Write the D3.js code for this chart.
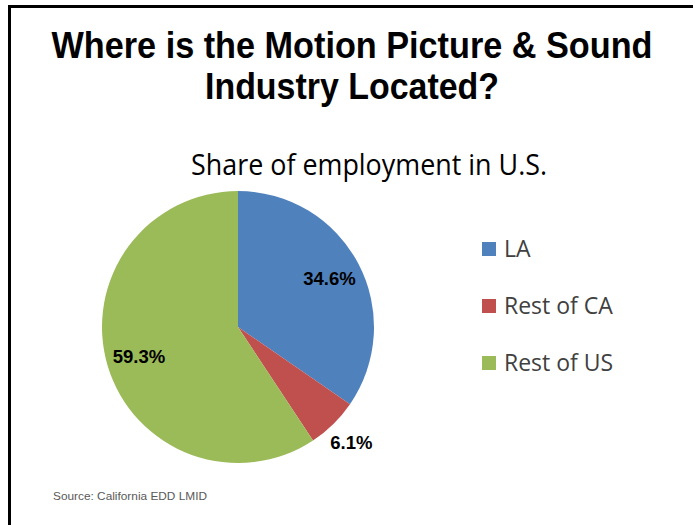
<!DOCTYPE html>
<html>
<head>
<meta charset="utf-8">
<script src="https://cdn.jsdelivr.net/npm/d3@7"></script>
<style>
  body { margin: 0; background: #fff; }
</style>
</head>
<body>
<svg id="chart" width="695" height="525"></svg>
<script>
// data
const regions = ["LA", "Rest of CA", "Rest of US"];
const shares = [34.6, 6.1, 59.3];
const sliceColors = ["#4F81BD", "#C0504D", "#9BBB59"];
const titleLines = ["Where is the Motion Picture & Sound", "Industry Located?"];
const titleWidths = [601, 294];

const svg = d3.select("#chart");

// slide frame (only top and left edges are visible in the crop)
svg.append("path").attr("d", "M9.5,525 V6.5 H693").attr("fill", "none").attr("stroke", "#000").attr("stroke-width", 3);

// title
svg.append("g").selectAll("text").data(titleLines).enter().append("text")
    .attr("x", 352).attr("y", function (d, i) { return 58 + i * 41; })
    .attr("text-anchor", "middle")
    .attr("textLength", function (d, i) { return titleWidths[i]; }).attr("lengthAdjust", "spacingAndGlyphs")
    .attr("font-family", "Liberation Sans, Arial, sans-serif").attr("font-weight", "bold").attr("font-size", 36)
    .attr("fill", "#000").text(function (d) { return d; });

// subtitle
svg.append("text").attr("x", 369).attr("y", 175).attr("text-anchor", "middle")
    .attr("textLength", 356).attr("lengthAdjust", "spacingAndGlyphs")
    .attr("font-family", "Open Sans, sans-serif").attr("font-size", 29).attr("fill", "#000")
    .text("Share of employment in U.S.");

// pie
const cx = 238, cy = 327, r = 136;
const pie = d3.pie().sort(null).value(function (d) { return d; });
const arc = d3.arc().innerRadius(0).outerRadius(r);
const arcs = pie(shares);

const g = svg.append("g").attr("transform", "translate(" + cx + "," + cy + ")");
g.selectAll("path").data(arcs).enter().append("path")
    .attr("d", arc).attr("fill", function (d, i) { return sliceColors[i]; });

g.selectAll(".lbl").data(arcs).enter().append("text").attr("class", "lbl")
    .attr("transform", function (d) {
        const small = d.data < 10;
        const rr = small ? r * 1.19 : r * 0.76;
        const a = (d.startAngle + d.endAngle) / 2;
        return "translate(" + (Math.sin(a) * rr) + "," + (-Math.cos(a) * rr) + ")";
    })
    .attr("text-anchor", "middle").attr("dy", "0.35em")
    .attr("font-family", "Liberation Sans, Arial, sans-serif").attr("font-weight", "bold").attr("font-size", 18.5)
    .attr("fill", "#000").text(function (d) { return d.data.toFixed(1) + "%"; });

// legend
const legend = svg.append("g").selectAll("g").data(regions).enter().append("g")
    .attr("transform", function (d, i) { return "translate(482," + (249 + i * 57) + ")"; });
legend.append("rect").attr("x", 0).attr("y", -7).attr("width", 14).attr("height", 14)
    .attr("fill", function (d, i) { return sliceColors[i]; });
legend.append("text").attr("x", 22).attr("dy", "0.35em")
    .attr("font-family", "Open Sans, sans-serif").attr("font-size", 23).attr("fill", "#404040")
    .text(function (d) { return d; });

// source note
svg.append("text").attr("x", 53).attr("y", 500)
    .attr("font-family", "Liberation Sans, Arial, sans-serif").attr("font-size", 11.5).attr("fill", "#595959")
    .attr("textLength", 154).attr("lengthAdjust", "spacingAndGlyphs")
    .text("Source:  California EDD LMID");
</script>
</body>
</html>
